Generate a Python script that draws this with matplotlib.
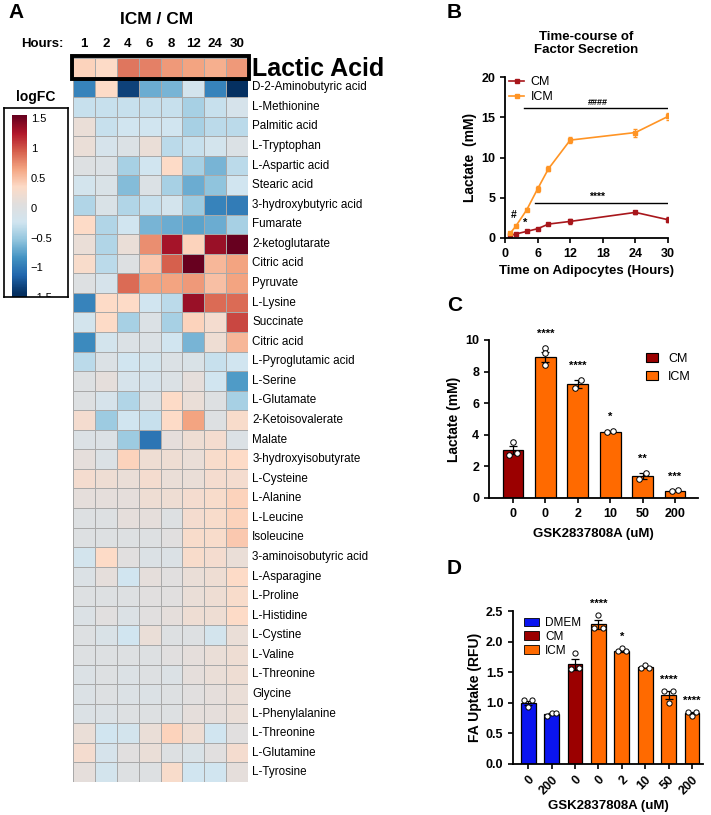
import numpy as np
import matplotlib
matplotlib.use('Agg')
import matplotlib.pyplot as plt
from matplotlib.colors import LinearSegmentedColormap
from matplotlib.patches import Rectangle, Patch
from matplotlib.lines import Line2D

plt.rcParams['font.family'] = ['Liberation Sans', 'DejaVu Sans']

# ---------------- data ----------------
hours = ['1', '2', '4', '6', '8', '12', '24', '30']
metabolites = ['Lactic Acid', 'D-2-Aminobutyric acid', 'L-Methionine', 'Palmitic acid', 'L-Tryptophan',
               'L-Aspartic acid', 'Stearic acid', '3-hydroxybutyric acid', 'Fumarate', '2-ketoglutarate',
               'Citric acid', 'Pyruvate', 'L-Lysine', 'Succinate', 'Citric acid', 'L-Pyroglutamic acid',
               'L-Serine', 'L-Glutamate', '2-Ketoisovalerate', 'Malate', '3-hydroxyisobutyrate',
               'L-Cysteine', 'L-Alanine', 'L-Leucine', 'Isoleucine', '3-aminoisobutyric acid',
               'L-Asparagine', 'L-Proline', 'L-Histidine', 'L-Cystine', 'L-Valine', 'L-Threonine',
               'Glycine', 'L-Phenylalanine', 'L-Threonine', 'L-Glutamine', 'L-Tyrosine']
logfc = np.array([
    [0.35, 0.30, 0.80, 0.75, 0.65, 0.60, 0.55, 0.65],
    [-1.00, 0.30, -1.40, -0.75, -0.70, -0.25, -1.00, -1.50],
    [-0.35, -0.35, -0.35, -0.35, -0.35, -0.50, -0.35, -0.20],
    [0.10, -0.35, -0.30, -0.30, -0.30, -0.50, -0.40, -0.40],
    [0.10, -0.20, -0.10, 0.10, -0.40, -0.35, -0.25, -0.10],
    [-0.05, -0.10, -0.50, -0.30, 0.30, -0.50, -0.70, -0.40],
    [-0.25, -0.15, -0.65, -0.10, -0.50, -0.75, -0.60, -0.30],
    [-0.45, -0.15, -0.45, -0.35, -0.25, -0.55, -1.00, -1.05],
    [0.30, -0.45, -0.30, -0.70, -0.75, -0.80, -0.75, -0.50],
    [0.10, -0.45, 0.10, 0.70, 1.25, 0.35, 1.30, 1.60],
    [0.25, -0.40, -0.05, 0.40, 0.90, 1.50, 0.50, 0.60],
    [-0.05, -0.20, 0.85, 0.60, 0.60, 0.65, 0.45, 0.60],
    [-1.00, 0.30, 0.30, -0.30, -0.40, 1.30, 0.85, 0.85],
    [-0.25, 0.30, -0.50, -0.10, -0.50, 0.35, 0.20, 1.00],
    [-0.95, -0.25, -0.10, -0.10, -0.30, -0.70, 0.15, 0.50],
    [-0.40, -0.10, -0.30, -0.25, -0.10, -0.15, -0.35, -0.30],
    [-0.05, 0.05, -0.20, -0.20, -0.10, 0.05, -0.30, -0.85],
    [-0.05, -0.20, -0.45, -0.10, 0.30, 0.10, -0.05, -0.50],
    [0.20, -0.55, -0.30, -0.35, 0.30, 0.60, -0.05, 0.25],
    [-0.10, -0.10, -0.55, -1.10, 0.05, 0.15, 0.20, -0.10],
    [0.05, -0.10, 0.35, 0.15, 0.15, 0.10, 0.25, 0.30],
    [0.20, 0.15, 0.10, 0.20, 0.10, 0.10, 0.20, 0.20],
    [0.05, 0.05, 0.05, 0.15, 0.15, 0.20, 0.25, 0.35],
    [-0.05, -0.05, 0.05, 0.05, -0.05, 0.20, 0.25, 0.35],
    [-0.05, -0.05, -0.05, -0.05, 0.00, 0.25, 0.25, 0.40],
    [-0.25, 0.30, 0.00, -0.10, -0.10, 0.25, 0.20, 0.10],
    [-0.10, 0.05, -0.30, 0.05, 0.00, 0.10, 0.15, 0.30],
    [-0.05, -0.05, -0.05, 0.00, 0.00, 0.10, 0.15, 0.25],
    [-0.10, 0.00, -0.10, 0.00, 0.05, 0.15, 0.15, 0.30],
    [-0.05, -0.15, -0.30, 0.10, -0.05, -0.05, -0.25, 0.10],
    [-0.05, -0.05, -0.05, -0.05, 0.00, 0.05, 0.10, 0.15],
    [-0.10, -0.05, -0.10, -0.05, -0.10, 0.05, 0.10, 0.15],
    [-0.10, -0.05, -0.10, -0.10, -0.05, 0.00, 0.05, 0.10],
    [-0.10, -0.10, -0.05, -0.05, -0.05, 0.05, 0.05, 0.10],
    [0.10, -0.30, -0.25, 0.10, 0.35, 0.15, -0.30, 0.00],
    [0.20, -0.20, 0.00, 0.10, -0.05, -0.15, 0.00, 0.20],
    [0.05, -0.25, -0.05, -0.05, 0.25, -0.30, -0.30, 0.05],
])

# panel B: lactate time course
time_h = [1, 2, 4, 6, 8, 12, 24, 30]
cm_lact = [0.33, 0.50, 0.82, 1.15, 1.73, 2.06, 3.18, 2.27]
cm_lact_err = [0.1, 0.1, 0.1, 0.15, 0.15, 0.3, 0.2, 0.3]
icm_lact = [0.62, 1.48, 3.50, 6.10, 8.60, 12.16, 13.10, 15.10]
icm_lact_err = [0.15, 0.15, 0.2, 0.4, 0.3, 0.4, 0.5, 0.4]

# panel C: lactate vs inhibitor
c_labels = ['0', '0', '2', '10', '50', '200']
c_groups = ['CM', 'ICM', 'ICM', 'ICM', 'ICM', 'ICM']
c_means = [3.05, 8.95, 7.20, 4.20, 1.40, 0.45]
c_err = [0.25, 0.32, 0.25, 0.02, 0.20, 0.03]
c_points = [[2.75, 3.55, 2.85], [8.4, 9.5, 9.2], [6.95, 7.5], [4.2, 4.25], [1.2, 1.6], [0.42, 0.5]]
c_stars = ['', '****', '****', '*', '**', '***']

# panel D: FA uptake
d_labels = ['0', '200', '0', '0', '2', '10', '50', '200']
d_groups = ['DMEM', 'DMEM', 'CM', 'ICM', 'ICM', 'ICM', 'ICM', 'ICM']
d_means = [1.00, 0.82, 1.63, 2.28, 1.85, 1.58, 1.13, 0.83]
d_err = [0.03, 0.01, 0.09, 0.07, 0.02, 0.01, 0.07, 0.02]
d_points = [[1.04, 0.93, 1.05], [0.79, 0.83, 0.83], [1.55, 1.82, 1.57], [2.22, 2.43, 2.22],
            [1.84, 1.90, 1.85], [1.57, 1.61, 1.57], [1.20, 1.00, 1.20], [0.85, 0.78, 0.85]]
d_stars = ['', '', '', '****', '*', '', '****', '****']

group_colors = {'DMEM': '#0a14f0', 'CM': '#9b0000', 'ICM': '#ff6a00'}
cm_line = '#a8161b'
icm_line = '#ff9424'

cmap_fc = LinearSegmentedColormap.from_list(
    'fc', ['#053061', '#2166ac', '#4393c3', '#92c5de', '#d1e5f0', '#e0dfdf',
           '#fddbc7', '#f4a582', '#d6604d', '#b2182b', '#67001f'])

W, H = 711, 815
fig = plt.figure(figsize=(W / 100, H / 100), dpi=100)


def px_axes(left, top, right, bottom):
    return fig.add_axes([left / W, 1 - bottom / H, (right - left) / W, (bottom - top) / H])


# ---------------- panel A ----------------
fig.text(8 / W, 1 - 12 / H, 'A', fontsize=15, fontweight='bold', va='center')
axh = px_axes(73, 58, 248, 782)
nrow, ncol = logfc.shape
axh.pcolormesh(np.arange(ncol + 1), np.arange(nrow + 1), logfc, cmap=cmap_fc, vmin=-1.5, vmax=1.5,
               edgecolors='#a9a9a9', linewidth=0.6)
axh.set_xlim(0, ncol)
axh.set_ylim(nrow, 0)
axh.set_xticks([])
axh.set_yticks([])
for s in axh.spines.values():
    s.set_visible(False)
for i, name in enumerate(metabolites):
    if i == 0:
        axh.text(ncol + 0.2, i + 0.55, name, fontsize=18, fontweight='bold', va='center', ha='left')
    else:
        axh.text(ncol + 0.2, i + 0.5, name, fontsize=8.4, va='center', ha='left')
for j, h in enumerate(hours):
    axh.text(j + 0.5, -0.4, h, fontsize=9.5, fontweight='bold', ha='center', va='bottom')
axh.text(-0.45, -0.4, 'Hours:', fontsize=9.5, fontweight='bold', ha='right', va='bottom')
axh.text(ncol / 2 - 0.2, -1.6, 'ICM / CM', fontsize=12.5, fontweight='bold', ha='center', va='bottom')
axh.add_patch(Rectangle((-0.05, -0.1), ncol + 0.1, 1.15, fill=False, lw=2.8, ec='black', clip_on=False))

# colour legend
axf = px_axes(4, 108, 68, 297)
axf.set_xticks([])
axf.set_yticks([])
for s in axf.spines.values():
    s.set_linewidth(1.2)
axf.set_xlim(0, 1)
axf.set_ylim(-1.55, 1.62)
grad = np.linspace(-1.6, 1.5, 200).reshape(-1, 1)
axf.imshow(grad, cmap=cmap_fc, vmin=-1.5, vmax=1.5, origin='lower', aspect='auto',
           extent=[0.12, 0.34, -1.6, 1.5])
for v, lab in zip([1.5, 1, 0.5, 0, -0.5, -1, -1.5], ['1.5', '1', '0.5', '0', '\u22120.5', '\u22121', '\u22121.5']):
    axf.text(0.42, v - 0.07, lab, fontsize=8, va='center', ha='left', clip_on=True)
fig.text(36 / W, 1 - 97 / H, 'logFC', fontsize=10, fontweight='bold', ha='center', va='center')

# ---------------- panel B ----------------
fig.text(447 / W, 1 - 12 / H, 'B', fontsize=15, fontweight='bold', va='center')
axb = px_axes(505, 77, 668, 238)
axb.errorbar(time_h, cm_lact, yerr=cm_lact_err, color=cm_line, marker='s', ms=2.5, lw=1.2,
             capsize=1.5, elinewidth=0.8)
axb.errorbar(time_h, icm_lact, yerr=icm_lact_err, color=icm_line, marker='s', ms=2.5, lw=1.2,
             capsize=1.5, elinewidth=0.8)
axb.plot([3.5, 30], [16.2, 16.2], color='black', lw=1)
axb.text(17, 16.3, '####', fontsize=6.5, fontweight='bold', ha='center', va='bottom')
axb.plot([5.5, 30], [4.4, 4.4], color='black', lw=1)
axb.text(17, 4.5, '****', fontsize=7.5, fontweight='bold', ha='center', va='bottom')
axb.text(1.6, 2.2, '#', fontsize=7.5, fontweight='bold', ha='center', va='bottom')
axb.text(3.8, 1.2, '*', fontsize=8, fontweight='bold', ha='center', va='bottom')
axb.set_xlim(0, 30)
axb.set_ylim(0, 20)
axb.set_xticks([0, 6, 12, 18, 24, 30])
axb.set_yticks([0, 5, 10, 15, 20])
axb.set_xlabel('Time on Adipocytes (Hours)', fontsize=9.5, fontweight='bold', labelpad=4)
axb.set_ylabel('Lactate  (mM)', fontsize=10, fontweight='bold', labelpad=3)
axb.set_title('Time-course of\nFactor Secretion', fontsize=9.5, fontweight='bold', pad=17)
axb.legend(handles=[Line2D([0], [0], color=cm_line, marker='s', ms=2.5, lw=1.2, label='CM'),
                    Line2D([0], [0], color=icm_line, marker='s', ms=2.5, lw=1.2, label='ICM')],
           loc='upper left', bbox_to_anchor=(-0.02, 1.05), fontsize=9, frameon=False,
           handlelength=1.2, handletextpad=0.5, borderaxespad=0.2, labelspacing=0.2)

# ---------------- panel C ----------------
fig.text(447 / W, 1 - 305 / H, 'C', fontsize=15, fontweight='bold', va='center')
axc = px_axes(489, 340, 698, 498)
xc = np.arange(len(c_means))
axc.bar(xc, c_means, width=0.64, color=[group_colors[g] for g in c_groups], edgecolor='black', lw=0.9,
        yerr=c_err, capsize=3, error_kw=dict(lw=0.9, capthick=0.9))
for i, pts in enumerate(c_points):
    off = np.array([-0.13, 0.0, 0.13]) if len(pts) > 2 else np.array([-0.1, 0.1])
    if i == 1:
        off = np.array([0.0, 0.0, 0.0])
    axc.scatter(xc[i] + off, pts, s=16, facecolor='white', edgecolor='black', lw=0.7, zorder=3)
    if c_stars[i]:
        axc.text(xc[i], max(pts) + 0.55, c_stars[i], fontsize=8, fontweight='bold', ha='center', va='bottom')
axc.set_xlim(-0.74, 5.71)
axc.set_ylim(0, 10)
axc.set_yticks([0, 2, 4, 6, 8, 10])
axc.set_xticks(xc)
axc.set_xticklabels(c_labels)
axc.set_xlabel('GSK2837808A (uM)', fontsize=9.5, fontweight='bold', labelpad=6)
axc.set_ylabel('Lactate (mM)', fontsize=10, fontweight='bold', labelpad=3)
axc.legend(handles=[Patch(fc=group_colors['CM'], ec='black', lw=0.8, label='CM'),
                    Patch(fc=group_colors['ICM'], ec='black', lw=0.8, label='ICM')],
           loc='upper right', fontsize=9, frameon=False, handlelength=1.0, handleheight=0.8,
           bbox_to_anchor=(1.02, 0.99), labelspacing=0.45)

# ---------------- panel D ----------------
fig.text(447 / W, 1 - 568 / H, 'D', fontsize=15, fontweight='bold', va='center')
axd = px_axes(513, 611, 703, 764)
xd = np.arange(len(d_means))
axd.bar(xd, d_means, width=0.64, color=[group_colors[g] for g in d_groups], edgecolor='black', lw=0.9,
        yerr=d_err, capsize=3, error_kw=dict(lw=0.9, capthick=0.9))
for i, pts in enumerate(d_points):
    off = np.array([-0.18, 0.0, 0.18])
    axd.scatter(xd[i] + off, pts, s=14, facecolor='white', edgecolor='black', lw=0.7, zorder=3)
    if d_stars[i]:
        axd.text(xd[i], max(pts) + 0.1, d_stars[i], fontsize=8, fontweight='bold', ha='center', va='bottom')
axd.set_xlim(-0.65, 7.47)
axd.set_ylim(0, 2.5)
axd.set_yticks([0, 0.5, 1.0, 1.5, 2.0, 2.5])
axd.set_yticklabels(['0.0', '0.5', '1.0', '1.5', '2.0', '2.5'])
axd.set_xticks(xd)
axd.set_xticklabels(d_labels, rotation=45, ha='right', rotation_mode='anchor')
axd.set_xlabel('GSK2837808A (uM)', fontsize=9.5, fontweight='bold', labelpad=2)
axd.set_ylabel('FA Uptake (RFU)', fontsize=10, fontweight='bold', labelpad=3)
axd.legend(handles=[Patch(fc=group_colors[g], ec='black', lw=0.6, label=g) for g in ['DMEM', 'CM', 'ICM']],
           loc='upper left', fontsize=8.5, frameon=False, handlelength=1.3, handleheight=0.75,
           handletextpad=0.5, bbox_to_anchor=(0.0, 1.03), labelspacing=0.15)

for ax in (axb, axc, axd):
    ax.spines['top'].set_visible(False)
    ax.spines['right'].set_visible(False)
    ax.spines['left'].set_linewidth(1.3)
    ax.spines['bottom'].set_linewidth(1.3)
    ax.tick_params(width=1.2, length=3.5, labelsize=9)
    for lab in ax.get_xticklabels() + ax.get_yticklabels():
        lab.set_fontweight('bold')

fig.savefig('out.png', dpi=100)
